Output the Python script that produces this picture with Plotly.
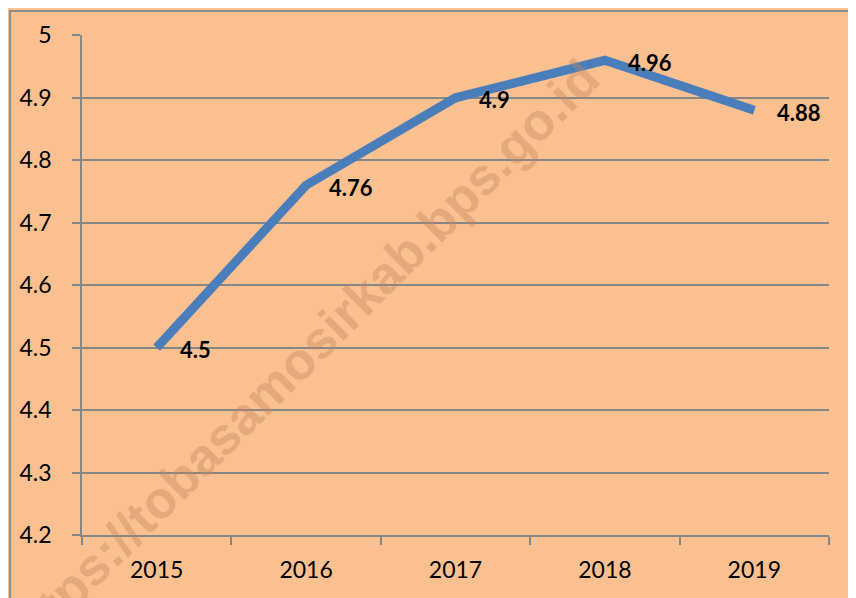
import plotly.graph_objects as go

years = ["2015", "2016", "2017", "2018", "2019"]
values = [4.5, 4.76, 4.9, 4.96, 4.88]
value_labels = ["4.5", "4.76", "4.9", "4.96", "4.88"]
y_ticks = [4.2, 4.3, 4.4, 4.5, 4.6, 4.7, 4.8, 4.9, 5.0]
y_tick_labels = ["4.2", "4.3", "4.4", "4.5", "4.6", "4.7", "4.8", "4.9", "5"]
watermark = "https://tobasamosirkab.bps.go.id"

# page has an 8px body margin; figure sized to fit the 856x598 window
OFF = 8
W, H = 856 - OFF, 598 - OFF
L, T = 81 - OFF, 33 - OFF
R = W - (829 - OFF)
B = H - (535 - OFF)
pw, ph = W - L - R, H - T - B

def px_x(px):  # page pixel -> paper
    return (px - OFF - L) / pw

def px_y(py):
    return (H - B - (py - OFF)) / ph

fig = go.Figure()
fig.add_trace(go.Scatter(
    x=years, y=values, mode="lines",
    line=dict(color="#4A7EBB", width=9),
    hoverinfo="skip", showlegend=False,
))

for i, (v, lab) in enumerate(zip(values, value_labels)):
    fig.add_annotation(
        x=i, y=v, text="<b>%s</b>" % lab, showarrow=False,
        xanchor="left", yanchor="middle", xshift=21, yshift=-2,
        font=dict(family="Lato", size=22, color="#000000"),
    )

fig.add_annotation(
    xref="paper", yref="paper", x=px_x(300), y=px_y(357),
    xanchor="center", yanchor="middle",
    text="<b>%s</b>" % watermark, showarrow=False, textangle=-45,
    font=dict(family="Liberation Sans", size=52, color="rgba(195,135,95,0.4)"),
)

fig.add_shape(
    type="rect", xref="paper", yref="paper",
    x0=px_x(OFF + 1), x1=px_x(900), y0=px_y(700), y1=px_y(OFF + 1),
    line=dict(color="#8C8C8C", width=2), fillcolor="rgba(0,0,0,0)", layer="below",
)

fig.update_layout(
    width=W, height=H,
    margin=dict(l=L, r=R, t=T, b=B, pad=0),
    paper_bgcolor="#FAC090", plot_bgcolor="#FAC090",
    font=dict(family="Lato", size=23, color="#000000"),
    showlegend=False,
)
fig.update_xaxes(
    type="category", tickson="boundaries", ticks="outside", ticklen=8,
    tickcolor="#868686", tickwidth=1.5, showgrid=False,
    showline=True, linecolor="#868686", linewidth=1.5,
    range=[-0.5, 4.5], ticklabelstandoff=14,
    tickfont=dict(family="Lato", size=23),
)
fig.update_yaxes(
    range=[4.2, 5.0005], tickvals=y_ticks, ticktext=y_tick_labels,
    ticks="outside", ticklen=8, tickcolor="#868686", tickwidth=1.5,
    showgrid=True, gridcolor="#868686", gridwidth=1.5,
    showline=True, linecolor="#868686", linewidth=1.5,
    zeroline=False, ticklabelstandoff=16,
    tickfont=dict(family="Lato", size=23),
)

fig.write_html("out.html")
